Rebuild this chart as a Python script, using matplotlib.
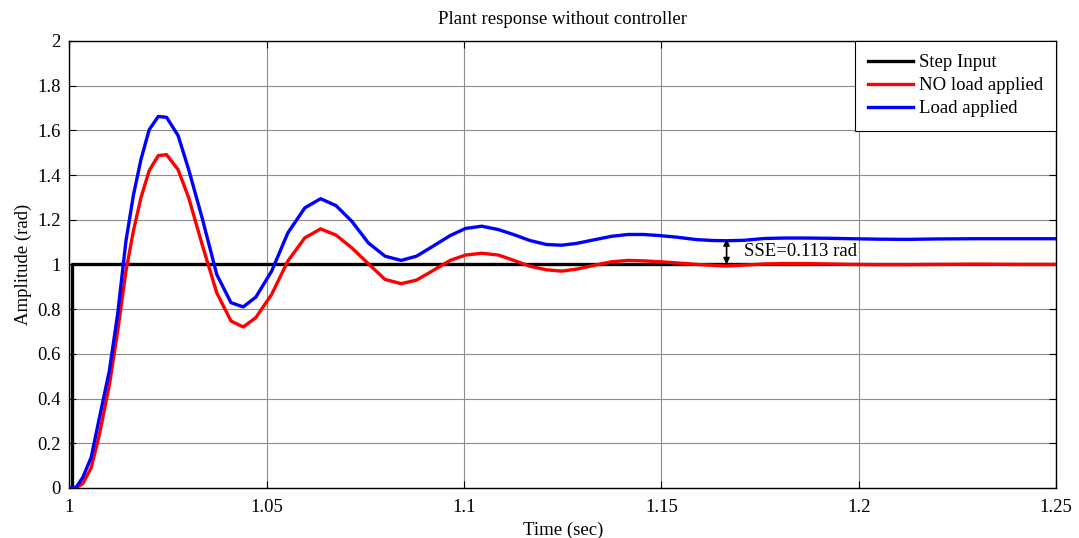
import matplotlib
matplotlib.use('Agg')
import matplotlib.pyplot as plt

plt.rcParams['font.family'] = ['Liberation Serif', 'DejaVu Serif']

# sampled simulation output (time in sec, amplitude in rad)
time = [1.0, 1.0018, 1.0035, 1.0056, 1.0077, 1.0102, 1.0123, 1.0144, 1.0163, 1.0182,
        1.0203, 1.0226, 1.0247, 1.0276, 1.0303, 1.0337, 1.0374, 1.0410, 1.0441, 1.0473,
        1.0513, 1.0554, 1.0597, 1.0637, 1.0676, 1.0716, 1.0758, 1.0800, 1.0841, 1.0880,
        1.0922, 1.0965, 1.1004, 1.1045, 1.1087, 1.1125, 1.1167, 1.1209, 1.1247, 1.1285,
        1.1332, 1.1374, 1.1416, 1.1454, 1.1496, 1.1538, 1.1589, 1.1630, 1.1665, 1.1710,
        1.1760, 1.1810, 1.1860, 1.1920, 1.1980, 1.2050, 1.2120, 1.2200, 1.2300, 1.2400,
        1.2500]

no_load = [0.0, 0.0, 0.02, 0.09, 0.24, 0.46, 0.70, 0.97, 1.15, 1.298,
           1.42, 1.487, 1.491, 1.424, 1.298, 1.089, 0.873, 0.747, 0.720, 0.762,
           0.866, 1.015, 1.119, 1.159, 1.131, 1.074, 1.003, 0.933, 0.914, 0.930,
           0.973, 1.018, 1.042, 1.050, 1.042, 1.019, 0.992, 0.976, 0.970, 0.979,
           0.997, 1.012, 1.018, 1.016, 1.012, 1.007, 1.000, 0.996, 0.993, 0.997,
           1.002, 1.004, 1.004, 1.002, 1.000, 0.999, 0.999, 1.000, 1.001, 1.000,
           1.000]

with_load = [0.0, 0.003, 0.048, 0.137, 0.315, 0.524, 0.777, 1.104, 1.31, 1.469,
             1.603, 1.662, 1.658, 1.577, 1.424, 1.208, 0.955, 0.829, 0.810, 0.854,
             0.970, 1.141, 1.253, 1.294, 1.263, 1.193, 1.096, 1.037, 1.018, 1.037,
             1.082, 1.129, 1.161, 1.171, 1.156, 1.134, 1.107, 1.089, 1.086, 1.094,
             1.111, 1.126, 1.134, 1.134, 1.129, 1.122, 1.111, 1.107, 1.106, 1.108,
             1.116, 1.118, 1.118, 1.117, 1.115, 1.113, 1.112, 1.114, 1.115, 1.115,
             1.115]

step_t = [1.0, 1.0008, 1.0008, 1.25]
step_y = [0.0, 0.0, 1.0, 1.0]

sse = 0.113
sse_t = 1.1665

xticks = [1.0, 1.05, 1.1, 1.15, 1.2, 1.25]
xtick_labels = ['1', '1.05', '1.1', '1.15', '1.2', '1.25']
yticks = [0, 0.2, 0.4, 0.6, 0.8, 1.0, 1.2, 1.4, 1.6, 1.8, 2.0]
ytick_labels = ['0', '0.2', '0.4', '0.6', '0.8', '1', '1.2', '1.4', '1.6', '1.8', '2']

fs = 13.5

fig = plt.figure(figsize=(10.79, 5.38), dpi=100)
ax = fig.add_axes([0.064, 0.093, 0.915, 0.831])

ax.plot(step_t, step_y, color='black', lw=2.4, label='Step Input', zorder=3)
ax.plot(time, no_load, color='#ff0000', lw=2.4, label='NO load applied', zorder=4)
ax.plot(time, with_load, color='#0000ff', lw=2.4, label='Load applied', zorder=5)

# steady state error marker
ax.annotate('', xy=(sse_t, 1.0 + sse), xytext=(sse_t, 1.0),
            arrowprops=dict(arrowstyle='<|-|>', color='black', lw=1.2,
                            shrinkA=0, shrinkB=0, mutation_scale=9), zorder=6)
ax.text(sse_t + 0.0043, 1.0 + sse / 2, 'SSE=%.3f rad' % sse, fontsize=fs,
        va='center', ha='left', zorder=6)

ax.set_xlim(1.0, 1.25)
ax.set_ylim(0, 2)
ax.set_xticks(xticks)
ax.set_xticklabels(xtick_labels)
ax.set_yticks(yticks)
ax.set_yticklabels(ytick_labels)
ax.tick_params(direction='in', top=True, right=True, labelsize=fs, length=5)
ax.tick_params(axis='x', pad=8)
ax.tick_params(axis='y', pad=6)

ax.grid(True, color='#8c8c8c', lw=0.8)
ax.set_axisbelow(True)
for sp in ax.spines.values():
    sp.set_linewidth(1.0)

ax.set_title('Plant response without controller', fontsize=fs, pad=12)
ax.set_xlabel('Time (sec)', fontsize=fs, labelpad=4)
ax.set_ylabel('Amplitude (rad)', fontsize=fs, labelpad=4)

leg = ax.legend(loc='upper right', fontsize=fs, fancybox=False, framealpha=1,
                edgecolor='black', handlelength=2.4, handletextpad=0.3,
                borderaxespad=0, labelspacing=0.32, borderpad=0.7)
leg.get_frame().set_linewidth(0.8)

fig.savefig('out.png', dpi=100)
